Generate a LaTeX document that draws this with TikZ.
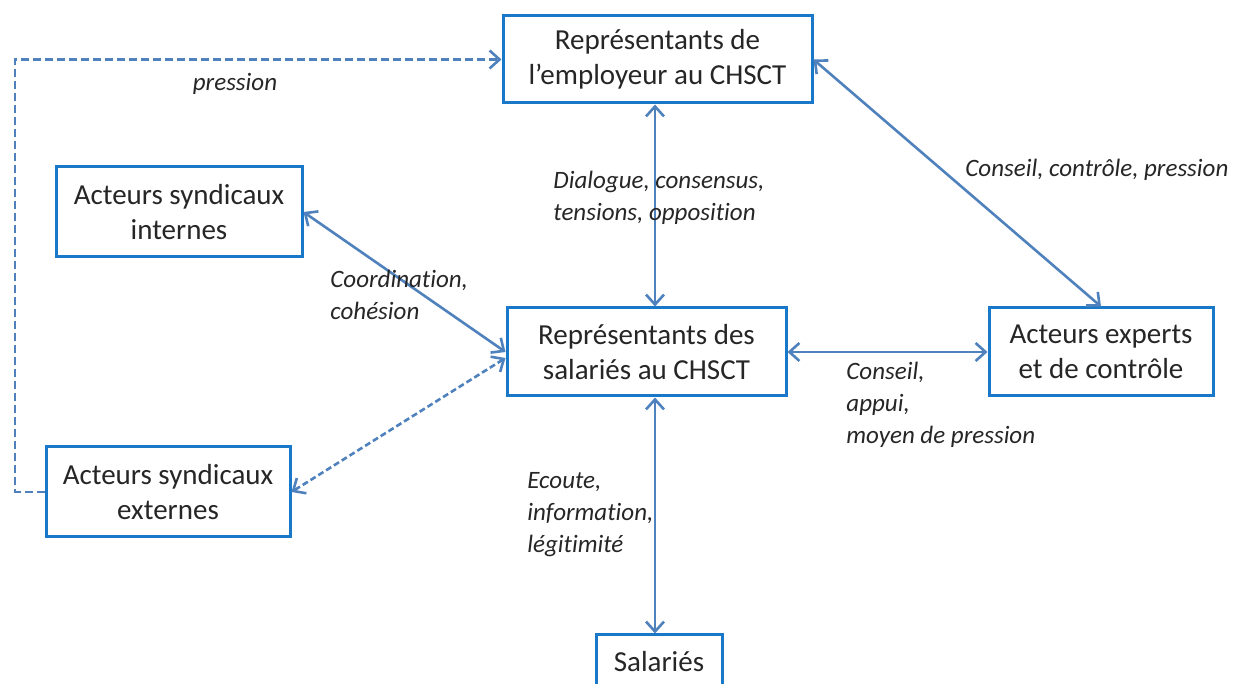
\documentclass[tikz,border=0pt]{standalone}
\usepackage{fontspec}
\setmainfont{Carlito}[Ligatures={NoCommon}]
\usetikzlibrary{arrows.meta,calc}
\definecolor{boxblue}{HTML}{1A78C8}
\definecolor{arrblue}{HTML}{4F81BD}
\definecolor{txt}{HTML}{262626}
\tikzset{
  box/.style={draw=boxblue,line width=1.5pt,fill=white,align=center,text=txt,
    font=\fontsize{14.5}{17.5}\selectfont,inner sep=0pt},
  lbl/.style={align=left,text=txt,font=\fontsize{12.5}{16}\selectfont\itshape,inner sep=0pt},
  arr/.style={draw=arrblue,line width=1.3pt,{Straight Barb[length=5pt,width=9pt]}-{Straight Barb[length=5pt,width=9pt]}},
  darr/.style={arr,dash pattern=on 3pt off 1.6pt},
  parr/.style={draw=arrblue,line width=1.3pt,dash pattern=on 4pt off 2pt,-{Straight Barb[length=5pt,width=9pt]}}
}
\begin{document}
\begin{tikzpicture}[x=0.5pt,y=-0.5pt]
\useasboundingbox (0,0) rectangle (1250,684);
\clip (0,0) rectangle (1250,684);
\node[box,minimum width=154.5pt,minimum height=43.5pt] (emp) at (657.5,59.5) {Représentants de\\l’employeur au CHSCT};
\node[box,minimum width=139.5pt,minimum height=44pt] (sal) at (646.5,352) {Représentants des\\salariés au CHSCT};
\node[box,minimum width=123pt,minimum height=45pt] (int) at (179,212) {Acteurs syndicaux\\internes};
\node[box,minimum width=122pt,minimum height=45pt] (ext) at (168,492) {Acteurs syndicaux\\externes};
\node[box,minimum width=112pt,minimum height=44pt] (exp) at (1101,352) {Acteurs experts\\et de contrôle};
\node[box,minimum width=63pt,minimum height=27pt] (slr) at (659,662) {Salariés};
\coordinate (vx) at (655,0);
\coordinate (lx) at (15,0);
\draw[arr] (emp.south -| vx) -- (sal.north -| vx);
\draw[arr] (sal.south -| vx) -- (slr.north -| vx);
\draw[arr] (emp.east) -- (exp.north);
\draw[arr] (int.east) -- (sal.west);
\draw[darr] ($(sal.west)+(0,6)$) -- (ext.east);
\draw[arr] (sal.east) -- (exp.west);
\draw[parr] (ext.west) -- (ext.west -| lx) |- (emp.west);
\node[lbl] (l1) at (235,84) {pression};
\node[lbl,anchor=west] (l2) at (553,198) {Dialogue, consensus,\\tensions, opposition};
\node[lbl,anchor=west] (l3) at (330,295) {Coordination,\\cohésion};
\node[lbl,anchor=west] (l4) at (965,170) {Conseil, contrôle, pression};
\node[lbl,anchor=west] (l5) at (846,405) {Conseil,\\appui,\\moyen de pression};
\node[lbl,anchor=west] (l6) at (527,515) {Ecoute,\\information,\\légitimité};
\end{tikzpicture}
\end{document}
